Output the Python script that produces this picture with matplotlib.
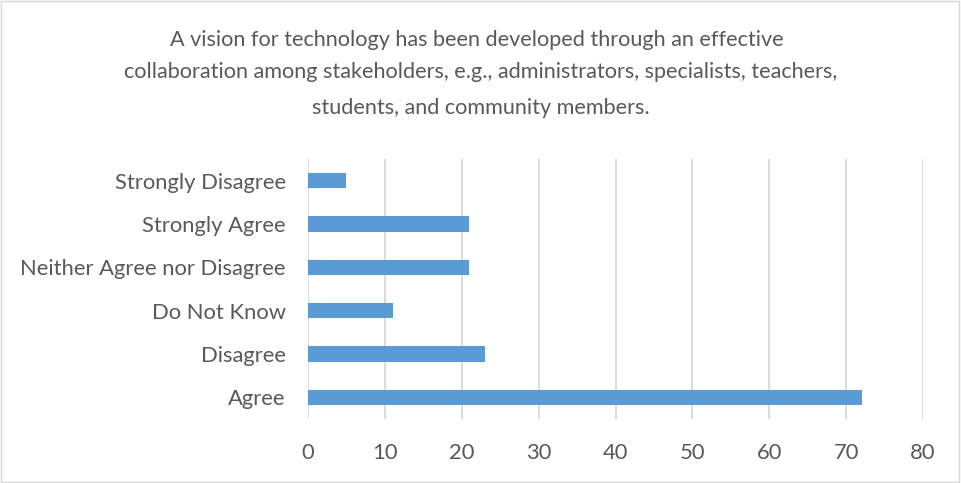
import matplotlib
matplotlib.use("Agg")
import matplotlib.pyplot as plt

# survey responses
categories = ["Agree", "Disagree", "Do Not Know", "Neither Agree nor Disagree",
              "Strongly Agree", "Strongly Disagree"]
counts = [72, 23, 11, 21, 21, 5]
xticks = [0, 10, 20, 30, 40, 50, 60, 70, 80]

title_lines = [
    "A vision for technology has been developed through an effective",
    "collaboration among stakeholders, e.g., administrators, specialists, teachers,",
    "students, and community members.",
]

plt.rcParams["font.family"] = ["Lato", "DejaVu Sans"]
text_col = "#595959"

fig = plt.figure(figsize=(9.61, 4.83), dpi=100)
ax = fig.add_axes([0.3205, 0.1325, 0.64, 0.5383])

ax.barh(range(len(categories)), counts, height=0.35, color="#5B9BD5", zorder=3)
ax.set_ylim(-0.5, len(categories) - 0.5)
ax.set_xlim(0, 80)
ax.set_xticks(xticks)
ax.set_yticks(range(len(categories)))
ax.set_yticklabels(categories)
ax.grid(axis="x", color="#D9D9D9", linewidth=1.3, zorder=0)
for s in ax.spines.values():
    s.set_visible(False)
ax.tick_params(length=0, labelsize=15.8, colors=text_col)
ax.tick_params(axis="x", pad=17)
ax.tick_params(axis="y", pad=16)

fig.text(0.496, 0.917, title_lines[0], ha="center", va="center", fontsize=15.6, color=text_col)
fig.text(0.5, 0.851, title_lines[1], ha="center", va="center", fontsize=15.6, color=text_col)
fig.text(0.5, 0.776, title_lines[2], ha="center", va="center", fontsize=15.6, color=text_col)

# thin frame round the whole chart
fig.patches.append(plt.Rectangle((0.001, 0.002), 0.997, 0.995, transform=fig.transFigure,
                                 fill=False, edgecolor="#D9D9D9", linewidth=1))

fig.savefig("out.png", dpi=100)
